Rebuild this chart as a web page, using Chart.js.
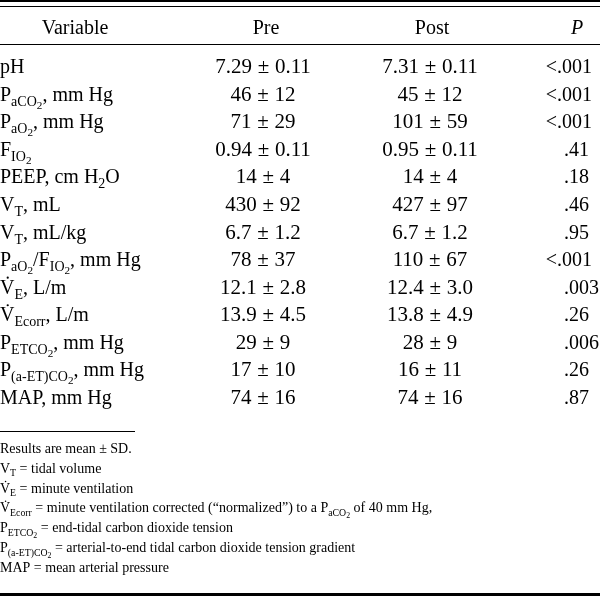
<!DOCTYPE html>
<html>
<head>
<meta charset="utf-8">
<script src="https://cdn.jsdelivr.net/npm/chart.js@4/dist/chart.umd.min.js"></script>
<style>
  html, body { margin: 0; padding: 0; background: #fff; }
  canvas { display: block; }
</style>
</head>
<body>
<canvas id="tbl" width="600" height="596"></canvas>
<script>
// table content ( _{...} = subscript, V\u0307 = V with dot )
const columns = ["Variable", "Pre", "Post", "P"];
const variables = [
  "pH",
  "P_{aCO_{2}}, mm Hg",
  "P_{aO_{2}}, mm Hg",
  "F_{IO_{2}}",
  "PEEP, cm H_{2}O",
  "V_{T}, mL",
  "V_{T}, mL/kg",
  "P_{aO_{2}}/F_{IO_{2}}, mm Hg",
  "V\u0307_{E}, L/m",
  "V\u0307_{Ecorr}, L/m",
  "P_{ETCO_{2}}, mm Hg",
  "P_{(a-ET)CO_{2}}, mm Hg",
  "MAP, mm Hg"
];
const preValues = ["7.29 ± 0.11", "46 ± 12", "71 ± 29", "0.94 ± 0.11", "14 ± 4", "430 ± 92", "6.7 ± 1.2",
  "78 ± 37", "12.1 ± 2.8", "13.9 ± 4.5", "29 ± 9", "17 ± 10", "74 ± 16"];
const postValues = ["7.31 ± 0.11", "45 ± 12", "101 ± 59", "0.95 ± 0.11", "14 ± 4", "427 ± 97", "6.7 ± 1.2",
  "110 ± 67", "12.4 ± 3.0", "13.8 ± 4.9", "28 ± 9", "16 ± 11", "74 ± 16"];
const pValues = ["<.001", "<.001", "<.001", ".41", ".18", ".46", ".95", "<.001", ".003", ".26", ".006", ".26", ".87"];
const footnotes = [
  "Results are mean ± SD.",
  "V_{T} = tidal volume",
  "V\u0307_{E} = minute ventilation",
  "V\u0307_{Ecorr} = minute ventilation corrected (“normalized”) to a P_{aCO_{2}} of 40 mm Hg,",
  "P_{ETCO_{2}} = end-tidal carbon dioxide tension",
  "P_{(a-ET)CO_{2}} = arterial-to-end tidal carbon dioxide tension gradient",
  "MAP = mean arterial pressure"
];

const FONT = "'Liberation Serif', 'Times New Roman', serif";
const INK = "#000";
const colAnchor = [0, 263, 430, 564];   // x of each column (left / centre / centre / left)
const colAlign = ["left", "center", "center", "p"];
const colSize = [20, 21, 21, 20];

// split markup into runs with a subscript level
function parseRuns(str) {
  const out = [];
  let lvl = 0, buf = "";
  for (let i = 0; i < str.length; i++) {
    if (str[i] === "_" && str[i + 1] === "{") {
      if (buf) out.push({ t: buf, lvl });
      buf = ""; lvl++; i++;
    } else if (str[i] === "}" && lvl > 0) {
      if (buf) out.push({ t: buf, lvl });
      buf = ""; lvl--;
    } else buf += str[i];
  }
  if (buf) out.push({ t: buf, lvl });
  return out;
}

function runStyle(base, lvl) {
  if (lvl === 0) return { size: base, dy: 0 };
  if (lvl === 1) return { size: base * 0.7, dy: base * 0.25 };
  return { size: base * 0.56, dy: base * 0.4 };
}

// draws (or only measures) rich text, returns width
function richText(ctx, str, x, y, base, draw, pmPad) {
  let cx = x;
  const pad = pmPad || 0;
  parseRuns(str).forEach((r) => {
    const st = runStyle(base, r.lvl);
    ctx.font = st.size + "px " + FONT;
    r.t.split("\u0307").forEach((p, k) => {
      if (k > 0 && draw) {
        // dot over the previous glyph
        const w = ctx.measureText("V").width;
        ctx.beginPath();
        ctx.arc(cx - w / 2 + 0.5, y + st.dy - st.size * 0.8, st.size * 0.055, 0, Math.PI * 2);
        ctx.fill();
      }
      p.split("±").forEach((q, j) => {
        if (j > 0) {
          cx += pad;
          if (draw) ctx.fillText("±", cx, y + st.dy);
          cx += ctx.measureText("±").width + pad;
        }
        if (draw) ctx.fillText(q, cx, y + st.dy);
        cx += ctx.measureText(q).width;
      });
    });
  });
  return cx - x;
}

const tablePlugin = {
  id: "tablePlugin",
  beforeDraw(chart) {
    const ctx = chart.ctx;
    ctx.save();
    ctx.fillStyle = "#fff";
    ctx.fillRect(0, 0, chart.width, chart.height);
    ctx.fillStyle = INK;
    // rules
    ctx.fillRect(0, 0, 600, 2);
    ctx.fillRect(0, 6, 600, 1);
    ctx.fillRect(0, 44, 600, 1);
    ctx.fillRect(0, 431, 135, 1);
    ctx.fillRect(0, 593, 600, 3);
    // header
    ctx.textBaseline = "alphabetic";
    ctx.textAlign = "center";
    ctx.font = "20px " + FONT;
    ctx.fillText(columns[0], 75, 34);
    ctx.fillText(columns[1], 266, 34);
    ctx.fillText(columns[2], 432, 34);
    ctx.font = "italic 20px " + FONT;
    ctx.fillText(columns[3], 577, 34);
    // footnotes
    ctx.textAlign = "left";
    footnotes.forEach((f, i) => richText(ctx, f, 0, 453 + i * 19.8, 14, true, 0));
    ctx.restore();
  },
  afterDatasetsDraw(chart) {
    const ctx = chart.ctx;
    ctx.save();
    ctx.fillStyle = INK;
    ctx.textBaseline = "alphabetic";
    ctx.textAlign = "left";
    chart.data.datasets.forEach((ds, di) => {
      const size = ds.fontSize;
      chart.getDatasetMeta(di).data.forEach((el, i) => {
        const txt = ds.cells[i];
        let x = el.x;
        if (ds.align === "center") {
          x -= richText(ctx, txt, 0, 0, size, false, 0.5) / 2;
        } else if (ds.align === "p" && txt.startsWith("<")) {
          ctx.font = size + "px " + FONT;
          x -= ctx.measureText("<").width + 7;
        }
        richText(ctx, txt, x, el.y, size, true, 0.5);
      });
    });
    ctx.restore();
  }
};

const cellColumns = [variables, preValues, postValues, pValues];

new Chart(document.getElementById("tbl"), {
  type: "scatter",
  data: {
    labels: variables,
    datasets: cellColumns.map((cells, c) => ({
      label: columns[c],
      cells: cells,
      align: colAlign[c],
      fontSize: colSize[c],
      data: cells.map((_, i) => ({ x: colAnchor[c], y: variables[i] })),
      pointRadius: 0,
      pointHoverRadius: 0
    }))
  },
  options: {
    responsive: false,
    animation: false,
    events: [],
    layout: { padding: { top: 73, bottom: 192, left: 0, right: 0 } },
    plugins: { legend: { display: false }, tooltip: { enabled: false } },
    scales: {
      x: { type: "linear", min: 0, max: 600, display: false },
      y: { type: "category", labels: variables, offset: false, display: false }
    }
  },
  plugins: [tablePlugin]
});
</script>
</body>
</html>
